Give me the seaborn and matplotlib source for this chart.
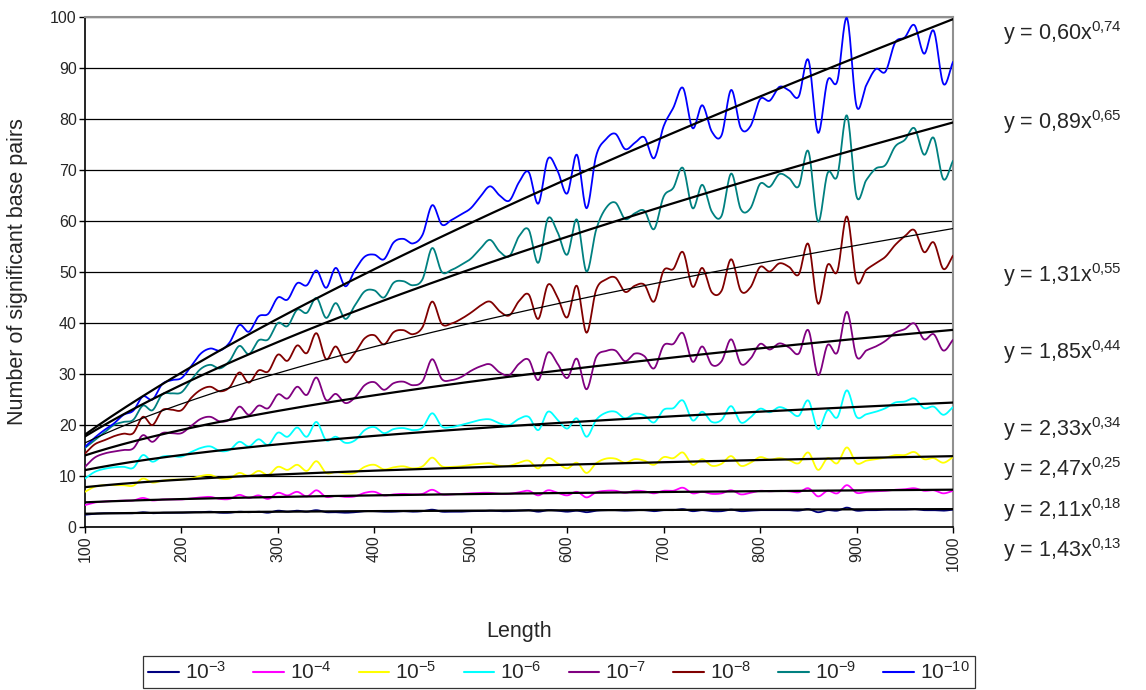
import numpy as np
import pandas as pd
import matplotlib
matplotlib.use("Agg")
import matplotlib.pyplot as plt
import seaborn as sns
from matplotlib.lines import Line2D

# ---------------------------------------------------------------- data
length = list(range(100, 1001, 10))

sig_e3 = [2.4, 2.6, 2.7, 2.7, 2.7, 2.7, 2.9, 2.7, 2.8, 2.8, 2.8, 2.9, 2.9, 3.0, 2.8, 2.8, 3.0, 2.9, 3.0, 2.8,
          3.2, 3.0, 3.2, 3.0, 3.3, 2.9, 2.9, 2.8, 2.9, 3.1, 3.1, 3.0, 3.0, 3.1, 3.0, 3.1, 3.4, 3.0, 3.0, 3.0,
          3.1, 3.1, 3.2, 3.1, 3.1, 3.2, 3.3, 3.0, 3.3, 3.2, 3.0, 3.2, 2.9, 3.2, 3.3, 3.3, 3.2, 3.3, 3.3, 3.1,
          3.3, 3.3, 3.5, 3.1, 3.3, 3.1, 3.1, 3.4, 3.1, 3.2, 3.3, 3.3, 3.3, 3.3, 3.2, 3.5, 2.9, 3.3, 3.2, 3.8,
          3.2, 3.3, 3.3, 3.4, 3.4, 3.4, 3.5, 3.3, 3.3, 3.2, 3.4]
sig_e4 = [4.3, 4.8, 5.0, 5.1, 5.2, 5.2, 5.7, 5.2, 5.4, 5.4, 5.4, 5.6, 5.8, 5.9, 5.5, 5.5, 6.3, 5.7, 6.2, 5.5,
          6.7, 6.2, 6.9, 6.0, 7.2, 5.9, 6.1, 5.9, 6.0, 6.7, 6.9, 6.2, 6.4, 6.5, 6.4, 6.5, 7.3, 6.4, 6.4, 6.5,
          6.6, 6.7, 6.7, 6.5, 6.5, 6.8, 7.1, 6.2, 7.2, 6.7, 6.2, 6.9, 5.8, 6.8, 7.1, 7.1, 6.7, 7.1, 7.0, 6.6,
          7.1, 7.1, 7.7, 6.6, 6.9, 6.5, 6.6, 7.2, 6.4, 6.7, 7.1, 7.0, 7.1, 7.0, 6.8, 7.6, 6.0, 7.1, 6.6, 8.2,
          6.7, 6.9, 7.0, 7.1, 7.3, 7.4, 7.6, 7.1, 7.2, 6.6, 7.1]
sig_e5 = [6.9, 7.9, 8.2, 8.2, 8.2, 8.1, 9.5, 8.7, 9.1, 9.3, 9.3, 9.5, 10.0, 10.2, 9.5, 9.5, 10.6, 10.0, 11.0, 10.2,
          11.8, 11.2, 12.2, 11.0, 12.9, 10.6, 10.8, 10.5, 10.6, 11.8, 12.2, 11.3, 11.7, 11.9, 11.5, 11.9, 13.6, 11.9, 11.8, 11.9,
          12.2, 12.4, 12.5, 12.0, 12.0, 12.6, 13.0, 11.5, 13.5, 12.5, 11.5, 12.6, 10.6, 12.5, 13.4, 13.4, 12.6, 13.3, 13.0, 12.2,
          13.7, 13.5, 14.6, 12.2, 13.3, 12.0, 12.4, 13.9, 12.0, 12.6, 13.7, 13.2, 13.5, 13.1, 12.5, 14.6, 11.2, 13.5, 12.5, 15.6,
          12.5, 13.0, 13.3, 13.6, 14.1, 14.1, 14.7, 13.3, 13.5, 12.6, 13.7]
sig_e6 = [9.5, 10.8, 11.4, 11.7, 11.8, 11.6, 14.1, 12.8, 13.8, 13.9, 13.8, 14.7, 15.5, 15.8, 14.9, 15.1, 16.7, 15.8, 17.2, 16.1,
          18.5, 17.7, 19.5, 17.7, 20.6, 17.0, 17.7, 16.5, 17.0, 19.0, 19.6, 18.4, 19.2, 19.4, 19.0, 19.5, 22.3, 19.7, 19.6, 20.0,
          20.5, 21.0, 21.1, 20.3, 20.0, 21.2, 21.6, 19.0, 22.6, 21.0, 19.3, 21.3, 17.7, 21.0, 22.4, 22.6, 21.3, 22.2, 21.9, 20.5,
          23.0, 23.3, 24.8, 20.9, 22.6, 20.6, 21.0, 23.7, 20.5, 21.5, 23.2, 22.5, 23.5, 22.8, 21.8, 24.8, 19.2, 22.9, 21.5, 26.8,
          21.6, 22.1, 22.6, 23.3, 24.4, 24.6, 25.2, 23.3, 23.6, 22.0, 23.5]
sig_e7 = [11.8, 13.6, 14.4, 14.8, 15.1, 15.4, 18.0, 16.7, 18.4, 18.4, 18.4, 19.8, 21.2, 21.6, 20.7, 21.1, 23.6, 22.0, 23.8, 23.3,
          26.0, 25.2, 27.5, 25.9, 29.3, 24.9, 26.1, 24.3, 25.4, 27.8, 28.4, 26.9, 28.2, 28.5, 27.8, 28.6, 32.9, 29.0, 28.8, 29.4,
          30.6, 31.5, 31.9, 30.3, 29.8, 32.0, 32.8, 28.8, 34.2, 32.0, 29.2, 33.0, 27.0, 33.3, 34.5, 34.6, 32.5, 34.0, 33.5, 31.1,
          35.6, 35.9, 38.0, 32.4, 35.4, 31.8, 32.5, 36.8, 32.0, 33.0, 35.9, 34.8, 36.0, 35.2, 34.0, 38.6, 29.8, 35.7, 34.2, 42.2,
          33.4, 34.6, 35.4, 36.5, 38.1, 38.8, 39.9, 36.8, 37.8, 34.6, 36.7]
sig_e8 = [14.4, 16.2, 17.0, 17.8, 18.3, 18.4, 21.6, 20.0, 22.9, 23.0, 22.9, 25.3, 26.9, 27.5, 26.6, 27.4, 30.3, 28.3, 30.7, 30.5,
          33.8, 32.6, 35.6, 34.1, 38.0, 32.9, 35.4, 32.3, 34.2, 37.0, 37.6, 35.8, 38.2, 38.6, 37.8, 39.2, 44.2, 39.8, 39.9, 40.8,
          42.0, 43.4, 44.2, 42.3, 41.5, 44.3, 45.6, 40.8, 47.5, 45.0, 41.1, 47.3, 38.1, 46.5, 48.5, 48.9, 46.1, 47.3, 47.5, 44.2,
          50.3, 50.6, 53.9, 47.1, 50.8, 46.0, 46.3, 52.5, 46.3, 47.0, 51.0, 50.1, 51.7, 51.0, 49.5, 55.5, 43.8, 51.4, 50.1, 60.9,
          48.2, 50.4, 51.7, 53.0, 55.3, 57.0, 58.2, 53.9, 55.8, 50.6, 53.2]
sig_e9 = [15.5, 17.0, 18.5, 20.0, 20.6, 21.0, 23.8, 22.9, 26.0, 26.2, 26.4, 28.8, 31.0, 31.8, 31.1, 32.6, 35.5, 33.9, 36.6, 36.8,
          40.0, 39.4, 42.6, 42.0, 44.9, 41.0, 43.9, 40.8, 43.5, 46.2, 46.4, 45.0, 47.9, 48.2, 47.4, 48.6, 54.7, 50.0, 50.4, 51.4,
          52.6, 54.6, 56.3, 54.0, 53.1, 57.0, 58.3, 51.8, 60.5, 57.8, 53.4, 60.3, 50.1, 58.3, 62.5, 63.6, 60.4, 61.5, 62.0, 58.4,
          64.8, 66.5, 70.4, 62.5, 67.1, 61.8, 61.0, 69.3, 62.3, 62.5, 67.3, 66.7, 69.2, 68.4, 66.8, 73.7, 59.9, 69.4, 68.8, 80.7,
          64.8, 68.0, 70.3, 71.0, 74.6, 75.9, 78.2, 73.0, 76.3, 68.2, 71.8]
sig_e10 = [15.7, 17.5, 19.0, 20.3, 22.0, 22.8, 25.6, 25.0, 28.0, 28.8, 29.2, 31.5, 34.0, 35.0, 34.6, 36.2, 39.6, 38.3, 41.3, 41.8,
           45.0, 44.6, 47.8, 47.4, 50.3, 46.9, 50.8, 47.2, 50.4, 53.0, 53.4, 52.5, 55.8, 56.5, 55.6, 57.3, 63.1, 59.3, 60.2, 61.3,
           62.5, 64.8, 66.8, 65.0, 64.0, 67.6, 69.6, 63.4, 72.2, 69.8, 65.4, 73.0, 62.5, 72.8, 76.0, 77.1, 74.1, 75.3, 76.4, 72.3,
           78.6, 82.2, 86.1, 78.2, 82.7, 77.5, 76.8, 85.7, 78.2, 78.6, 83.9, 83.6, 86.3, 85.6, 84.4, 91.6, 77.3, 87.6, 87.4, 99.8,
           82.5, 86.6, 89.8, 89.3, 95.0, 96.0, 98.4, 92.8, 97.3, 86.9, 91.2]

series_labels = ["10$^{-3}$", "10$^{-4}$", "10$^{-5}$", "10$^{-6}$",
                 "10$^{-7}$", "10$^{-8}$", "10$^{-9}$", "10$^{-10}$"]

# power-law trend lines y = a * x^b
fit_coef = [1.43, 2.11, 2.47, 2.33, 1.85, 1.31, 0.89, 0.60]
fit_exp = [0.13, 0.18, 0.25, 0.34, 0.44, 0.55, 0.65, 0.74]

y_ticks = list(range(0, 101, 10))
x_ticks = list(range(100, 1001, 100))

# ---------------------------------------------------------------- style
series_values = [sig_e3, sig_e4, sig_e5, sig_e6, sig_e7, sig_e8, sig_e9, sig_e10]
series_colors = ["#000080", "#FF00FF", "#FFFF00", "#00FFFF",
                 "#800080", "#800000", "#008080", "#0000FF"]
trend_widths = [1.6, 1.6, 1.6, 1.6, 1.6, 0.9, 1.6, 1.6]
equation_y_px = [550, 510, 469, 429, 352, 275, 122, 33]

sns.set_theme(style="white")
plt.rcParams["font.family"] = ["Liberation Sans", "DejaVu Sans"]
plt.rcParams["mathtext.fontset"] = "custom"
plt.rcParams["mathtext.rm"] = "Liberation Sans"
plt.rcParams["mathtext.it"] = "Liberation Sans:italic"
plt.rcParams["mathtext.bf"] = "Liberation Sans:bold"

W, H = 1146, 690
fig = plt.figure(figsize=(W / 100, H / 100), dpi=100)
ax = fig.add_axes([85 / W, 1 - 527 / H, (953 - 85) / W, (527 - 17) / H])


def smooth_curve(x, y, n=16):
    """Catmull-Rom interpolation through the points, like a smoothed line chart."""
    x = np.asarray(x, float)
    y = np.asarray(y, float)
    xp = np.concatenate([[2 * x[0] - x[1]], x, [2 * x[-1] - x[-2]]])
    yp = np.concatenate([[2 * y[0] - y[1]], y, [2 * y[-1] - y[-2]]])
    t = np.linspace(0, 1, n, endpoint=False)
    xs, ys = [], []
    for i in range(1, len(xp) - 2):
        for arr, out in ((xp, xs), (yp, ys)):
            p0, p1, p2, p3 = arr[i - 1:i + 3]
            out.append(0.5 * (2 * p1 + (-p0 + p2) * t
                              + (2 * p0 - 5 * p1 + 4 * p2 - p3) * t ** 2
                              + (-p0 + 3 * p1 - 3 * p2 + p3) * t ** 3))
    xs.append([x[-1]])
    ys.append([y[-1]])
    return np.concatenate(xs), np.concatenate(ys)


frames = []
for label, vals in zip(series_labels, series_values):
    sx, sy = smooth_curve(length, vals)
    frames.append(pd.DataFrame({"Length": sx, "Pairs": sy, "Threshold": label}))
curves = pd.concat(frames, ignore_index=True)

sns.lineplot(data=curves, x="Length", y="Pairs", hue="Threshold",
             palette=dict(zip(series_labels, series_colors)),
             sort=False, estimator=None, linewidth=1.3, legend=False, ax=ax, zorder=3)

# trend lines
xt = np.linspace(length[0], length[-1], 400)
for a, b, lw in zip(fit_coef, fit_exp, trend_widths):
    sns.lineplot(x=xt, y=a * xt ** b, color="black", linewidth=lw, ax=ax, zorder=4)

ax.set_xlim(100, 1000)
ax.set_ylim(0, 100)
ax.set_xticks(x_ticks)
ax.set_yticks(y_ticks)
ax.set_xticklabels([str(v) for v in x_ticks], rotation=90, fontsize=11.5)
ax.set_yticklabels([str(v) for v in y_ticks], fontsize=11.5)
ax.tick_params(axis="both", direction="out", length=4, width=1, color="black",
               bottom=True, left=True, pad=2)
ax.yaxis.grid(True, color="black", linewidth=0.9)
ax.xaxis.grid(False)
ax.set_axisbelow(True)

for side in ("left", "bottom"):
    ax.spines[side].set_color("black")
    ax.spines[side].set_linewidth(1.2)
for side in ("top", "right"):
    ax.spines[side].set_color("#909090")
    ax.spines[side].set_linewidth(1.5)

ax.set_xlabel("Length", fontsize=15.5, labelpad=36)
ax.set_ylabel("Number of significant base pairs", fontsize=15.5, labelpad=16)

# equation labels
for a, b, ypx in zip(fit_coef, fit_exp, equation_y_px):
    a_txt = f"{a:.2f}".replace(".", ",")
    b_txt = f"{b:.2f}".replace(".", "{,}")
    fig.text(1003 / W, 1 - ypx / H, f"y = {a_txt}x$^{{{b_txt}}}$",
             fontsize=15.5, ha="left", va="center")

handles = [Line2D([0], [0], color=c, linewidth=1.5) for c in series_colors]
leg = fig.legend(handles, series_labels, loc="center",
                 bbox_to_anchor=(559 / W, 1 - 672 / H), ncol=8, frameon=True,
                 fancybox=False, edgecolor="black", fontsize=15,
                 handlelength=1.45, handletextpad=0.3, columnspacing=1.3,
                 borderpad=0.25)
leg.get_frame().set_linewidth(0.9)

fig.savefig("out.png", dpi=100)
